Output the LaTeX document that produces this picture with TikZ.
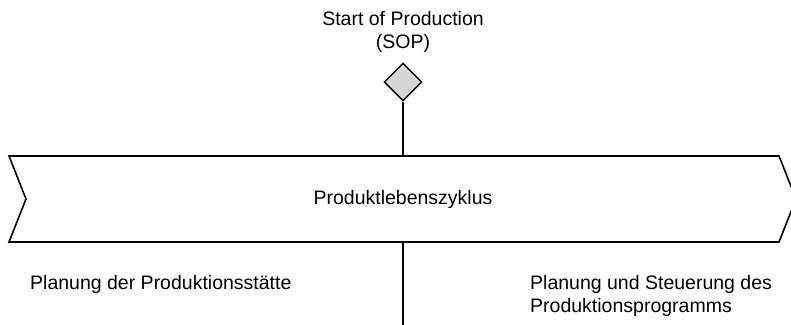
\documentclass[tikz,border=0pt]{standalone}
\usepackage{fontspec}
\setmainfont{Liberation Sans}
\usetikzlibrary{shapes.geometric}
\begin{document}
\begin{tikzpicture}[x=1pt,y=-1pt,
  line/.style={line width=1.6pt, black},
  txt/.style={font=\fontsize{19.5}{23}\selectfont, inner sep=0pt},
  milestone/.style={diamond, draw, line width=1.4pt, fill=black!16,
    minimum width=38pt, minimum height=38pt, inner sep=0pt}]
\useasboundingbox (0,0) rectangle (791,324);
\clip (0,0) rectangle (791,324);

% chevron band
\coordinate (bl) at (9,156);
\coordinate (br) at (779,156);
\coordinate (tip) at (796,199);
\coordinate (bbr) at (779,242);
\coordinate (bbl) at (9,242);
\coordinate (notch) at (26,199);
\draw[line, line join=miter] (bl) -- (br) -- (tip) -- (bbr) -- (bbl) -- (notch) -- cycle;
\node[txt] (band) at (403,199) {Produktlebenszyklus};

% milestone
\node[milestone] (sop) at (403,82) {};
\node[txt, align=center] (soplabel) at (403,31.5) {Start of Production\\(SOP)};
\coordinate (bandtop) at (403,156);
\coordinate (bandbot) at (403,242);
\coordinate (bottom) at (403,330);
\draw[line] (sop.south) -- (bandtop);
\draw[line] (bandbot) -- (bottom);

% phases
\node[txt, anchor=west] (left) at (30,284) {Planung der Produktionsstätte};
\node[txt, anchor=west, align=left] (right) at (530,295.5) {Planung und Steuerung des\\Produktionsprogramms};
\end{tikzpicture}
\end{document}
